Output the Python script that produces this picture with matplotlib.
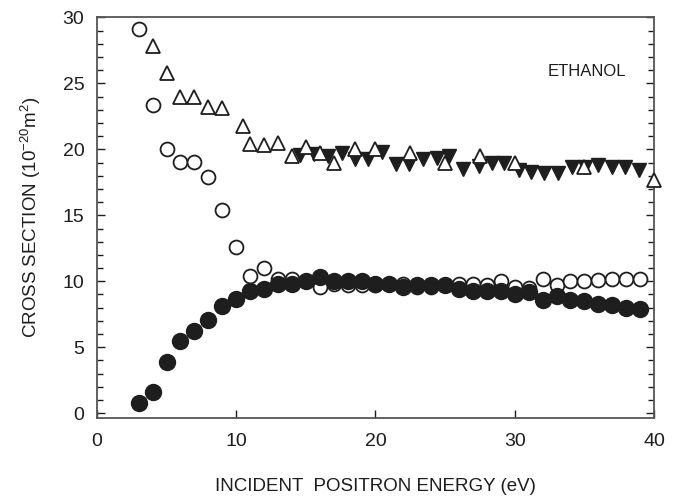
import matplotlib
matplotlib.use("Agg")
import matplotlib.pyplot as plt
from matplotlib.ticker import MultipleLocator

plt.rcParams["font.family"] = ["Liberation Sans", "DejaVu Sans"]
plt.rcParams["mathtext.default"] = "regular"

# open triangles
tri_e = [4, 5, 6, 7, 8, 9, 10.5, 11, 12, 13, 14, 15, 16, 17, 18.5, 20, 22.5, 25, 27.5, 30, 35, 40]
tri_q = [27.8, 25.8, 23.95, 23.95, 23.2, 23.1, 21.8, 20.4, 20.35, 20.5, 19.5, 20.2, 19.7, 19.0,
         20.0, 20.0, 19.7, 19.0, 19.5, 19.0, 18.7, 17.7]

# filled inverted triangles
inv_e = [14.6, 15.6, 16.6, 17.6, 18.5, 19.5, 20.5, 21.5, 22.4, 23.4, 24.4, 25.3, 26.3, 27.4,
         28.4, 29.2, 30.3, 31.2, 32.1, 33.1, 34.1, 35.05, 36.0, 37.0, 37.9, 38.95]
inv_q = [19.6, 19.65, 19.47, 19.7, 19.27, 19.27, 19.77, 18.9, 18.9, 19.27, 19.35, 19.52, 18.5,
         18.77, 18.97, 19.0, 18.46, 18.26, 18.2, 18.2, 18.7, 18.7, 18.84, 18.7, 18.7, 18.4]

# circles share one energy grid
circ_e = list(range(3, 40))
open_q = [29.1, 23.35, 20.0, 19.04, 19.04, 17.9, 15.4, 12.6, 10.4, 11.0, 10.2, 10.2,
          10.0, 9.6, 9.8, 9.7, 9.7, 9.7, 9.8, 9.8, 9.6, 9.6, 9.7, 9.8, 9.8, 9.7, 10.0,
          9.6, 9.5, 10.2, 9.7, 10.0, 10.0, 10.1, 10.2, 10.2, 10.2]
fill_q = [0.78, 1.59, 3.9, 5.5, 6.24, 7.1, 8.1, 8.66, 9.29, 9.44, 9.82, 9.82,
          10.0, 10.3, 10.0, 10.0, 10.0, 9.8, 9.8, 9.6, 9.7, 9.7, 9.7, 9.4, 9.3, 9.3, 9.3,
          9.0, 9.2, 8.6, 8.9, 8.6, 8.5, 8.3, 8.2, 8.0, 7.9]

ink = "#1e1e1e"

fig = plt.figure(figsize=(6.87, 4.98), dpi=100)
ax = fig.add_axes([0.141, 0.161, 0.811, 0.804])

ax.plot(circ_e, open_q, "o", ms=10, mfc="white", mec=ink, mew=1.3, ls="none", zorder=3)
ax.plot(circ_e, fill_q, "o", ms=11.5, mfc=ink, mec=ink, ls="none", zorder=3)
ax.plot(inv_e, inv_q, "v", ms=10, mfc=ink, mec=ink, ls="none", zorder=3)
ax.plot(tri_e, tri_q, "^", ms=10, mfc="white", mec=ink, mew=1.3, ls="none", zorder=4,
        clip_on=False)

ax.text(35.2, 25.9, "ETHANOL", fontsize=12, color=ink, ha="center", va="center")

ax.set_xlim(0, 40)
ax.set_ylim(-0.35, 30)
ax.xaxis.set_major_locator(MultipleLocator(10))
ax.yaxis.set_major_locator(MultipleLocator(5))
ax.yaxis.set_minor_locator(MultipleLocator(1))
ax.tick_params(axis="x", which="both", direction="in", top=False, length=6, width=1,
               labelsize=14, pad=11, colors=ink)
ax.tick_params(axis="y", which="major", direction="in", left=True, right=True, length=6,
               width=1, labelsize=14, pad=9, colors=ink)
ax.tick_params(axis="y", which="minor", direction="in", left=True, right=True, length=4,
               width=1, colors=ink)
for s in ax.spines.values():
    s.set_color("#555555")
    s.set_linewidth(1.3)

ax.set_xlabel("INCIDENT  POSITRON ENERGY (eV)", fontsize=13.5, color=ink, labelpad=20)
ax.set_ylabel("CROSS SECTION (10$^{-20}$m$^{2}$)", fontsize=13.5, color=ink, labelpad=14)

fig.savefig("out.png", dpi=100)
